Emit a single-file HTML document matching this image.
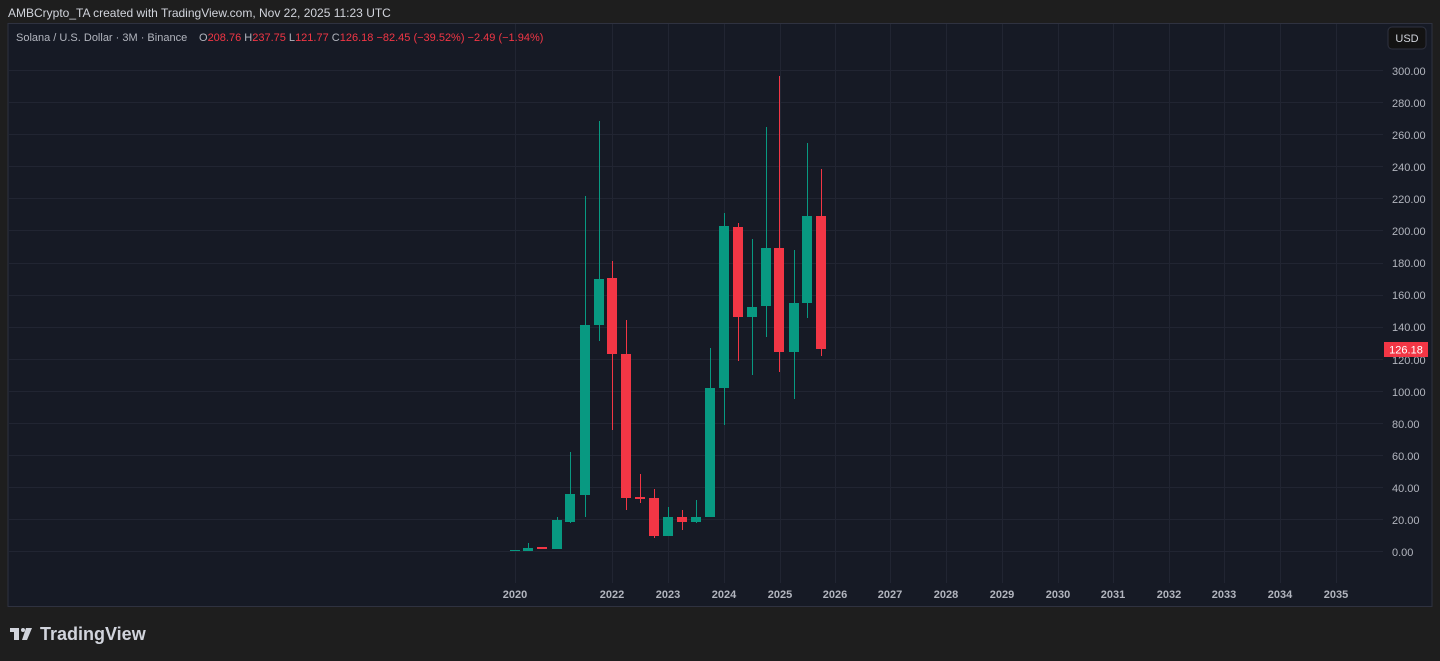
<!DOCTYPE html>
<html><head><meta charset="utf-8"><style>
html,body{margin:0;padding:0;background:#1e1e1e;width:1440px;height:661px;overflow:hidden;font-family:"Liberation Sans",sans-serif}
</style></head><body>
<svg width="1440" height="661" xmlns="http://www.w3.org/2000/svg" font-family="Liberation Sans, sans-serif">
<rect width="1440" height="661" fill="#1e1e1e"/>
<text x="8" y="17" fill="#d1d4dc" font-size="12">AMBCrypto_TA created with TradingView.com, Nov 22, 2025 11:23 UTC</text>
<rect x="8" y="23.5" width="1424" height="583" fill="#161a25" stroke="#2f3240" stroke-width="1"/>
<g stroke="#212532" stroke-width="1">
<line x1="9" x2="1383" y1="551.5" y2="551.5"/><line x1="9" x2="1383" y1="519.5" y2="519.5"/><line x1="9" x2="1383" y1="487.5" y2="487.5"/><line x1="9" x2="1383" y1="455.5" y2="455.5"/><line x1="9" x2="1383" y1="423.5" y2="423.5"/><line x1="9" x2="1383" y1="391.5" y2="391.5"/><line x1="9" x2="1383" y1="359.5" y2="359.5"/><line x1="9" x2="1383" y1="327.5" y2="327.5"/><line x1="9" x2="1383" y1="295.5" y2="295.5"/><line x1="9" x2="1383" y1="263.5" y2="263.5"/><line x1="9" x2="1383" y1="230.5" y2="230.5"/><line x1="9" x2="1383" y1="198.5" y2="198.5"/><line x1="9" x2="1383" y1="166.5" y2="166.5"/><line x1="9" x2="1383" y1="134.5" y2="134.5"/><line x1="9" x2="1383" y1="102.5" y2="102.5"/><line x1="9" x2="1383" y1="70.5" y2="70.5"/>
<line y1="24" y2="583" x1="515.5" x2="515.5"/><line y1="24" y2="583" x1="612.5" x2="612.5"/><line y1="24" y2="583" x1="668.5" x2="668.5"/><line y1="24" y2="583" x1="724.5" x2="724.5"/><line y1="24" y2="583" x1="780.5" x2="780.5"/><line y1="24" y2="583" x1="835.5" x2="835.5"/><line y1="24" y2="583" x1="890.5" x2="890.5"/><line y1="24" y2="583" x1="946.5" x2="946.5"/><line y1="24" y2="583" x1="1002.5" x2="1002.5"/><line y1="24" y2="583" x1="1058.5" x2="1058.5"/><line y1="24" y2="583" x1="1113.5" x2="1113.5"/><line y1="24" y2="583" x1="1169.5" x2="1169.5"/><line y1="24" y2="583" x1="1224.5" x2="1224.5"/><line y1="24" y2="583" x1="1280.5" x2="1280.5"/><line y1="24" y2="583" x1="1336.5" x2="1336.5"/>
</g>
<text x="16" y="41" fill="#b2b5be" font-size="11">Solana / U.S. Dollar · 3M · Binance</text>
<text x="199" y="41" font-size="11" fill="#b2b5be">O<tspan fill="#f23645">208.76</tspan>  H<tspan fill="#f23645">237.75</tspan>  L<tspan fill="#f23645">121.77</tspan>  C<tspan fill="#f23645">126.18</tspan>  <tspan fill="#f23645">−82.45 (−39.52%)  −2.49 (−1.94%)</tspan></text>
<rect x="1388" y="27" width="38" height="22" rx="4" fill="#131313" stroke="#2f3240"/>
<text x="1407" y="42" fill="#d1d4dc" font-size="11" text-anchor="middle">USD</text>
<g fill="#b2b5be" font-size="11">
<text x="1392" y="556">0.00</text><text x="1392" y="524">20.00</text><text x="1392" y="492">40.00</text><text x="1392" y="460">60.00</text><text x="1392" y="428">80.00</text><text x="1392" y="396">100.00</text><text x="1392" y="364">120.00</text><text x="1392" y="331">140.00</text><text x="1392" y="299">160.00</text><text x="1392" y="267">180.00</text><text x="1392" y="235">200.00</text><text x="1392" y="203">220.00</text><text x="1392" y="171">240.00</text><text x="1392" y="139">260.00</text><text x="1392" y="107">280.00</text><text x="1392" y="75">300.00</text>
</g>
<rect x="1384" y="342" width="44" height="15" fill="#f23645"/>
<text x="1406" y="353.5" fill="#fff" font-size="11" text-anchor="middle">126.18</text>
<g fill="#b2b5be" font-size="11" font-weight="bold" text-anchor="middle">
<text x="515" y="598">2020</text><text x="612" y="598">2022</text><text x="668" y="598">2023</text><text x="724" y="598">2024</text><text x="780" y="598">2025</text><text x="835" y="598">2026</text><text x="890" y="598">2027</text><text x="946" y="598">2028</text><text x="1002" y="598">2029</text><text x="1058" y="598">2030</text><text x="1113" y="598">2031</text><text x="1169" y="598">2032</text><text x="1224" y="598">2033</text><text x="1280" y="598">2034</text><text x="1336" y="598">2035</text>
</g>
<g>
<g fill="#089981">
<rect x="510" y="550" width="10" height="1"/>
<rect x="528" y="543" width="1" height="8"/><rect x="523" y="548" width="10" height="3"/>
<rect x="557" y="517" width="1" height="32"/><rect x="552" y="520" width="10" height="29"/>
<rect x="570" y="452" width="1" height="71"/><rect x="565" y="494" width="10" height="28"/>
<rect x="585" y="196" width="1" height="321"/><rect x="580" y="325" width="10" height="170"/>
<rect x="599" y="121" width="1" height="220"/><rect x="594" y="279" width="10" height="46"/>
<rect x="668" y="507" width="1" height="29"/><rect x="663" y="517" width="10" height="19"/>
<rect x="696" y="500" width="1" height="23"/><rect x="691" y="517" width="10" height="5"/>
<rect x="710" y="348" width="1" height="169"/><rect x="705" y="388" width="10" height="129"/>
<rect x="724" y="213" width="1" height="212"/><rect x="719" y="226" width="10" height="162"/>
<rect x="752" y="239" width="1" height="136"/><rect x="747" y="307" width="10" height="10"/>
<rect x="766" y="127" width="1" height="210"/><rect x="761" y="248" width="10" height="58"/>
<rect x="794" y="250" width="1" height="149"/><rect x="789" y="303" width="10" height="49"/>
<rect x="807" y="143" width="1" height="175"/><rect x="802" y="216" width="10" height="87"/>
</g>
<g fill="#f23645">
<rect x="537" y="547" width="10" height="2"/>
<rect x="612" y="261" width="1" height="169"/><rect x="607" y="278" width="10" height="76"/>
<rect x="626" y="320" width="1" height="190"/><rect x="621" y="354" width="10" height="144"/>
<rect x="640" y="474" width="1" height="29"/><rect x="635" y="497" width="10" height="2"/>
<rect x="654" y="489" width="1" height="49"/><rect x="649" y="498" width="10" height="38"/>
<rect x="682" y="510" width="1" height="20"/><rect x="677" y="517" width="10" height="5"/>
<rect x="738" y="223" width="1" height="138"/><rect x="733" y="227" width="10" height="90"/>
<rect x="779" y="76" width="1" height="296"/><rect x="774" y="248" width="10" height="104"/>
<rect x="821" y="169" width="1" height="187"/><rect x="816" y="216" width="10" height="133"/>
</g>
</g>
<g fill="#d1d4dc">
<rect x="10" y="628" width="9" height="4"/><rect x="14" y="628" width="5" height="12"/>
<circle cx="23" cy="630" r="2"/>
<polygon points="26,628 32,628 27,640 22,640"/>
</g>
<text x="40" y="640" fill="#d1d4dc" font-size="18" font-weight="bold">TradingView</text>
</svg>
</body></html>
